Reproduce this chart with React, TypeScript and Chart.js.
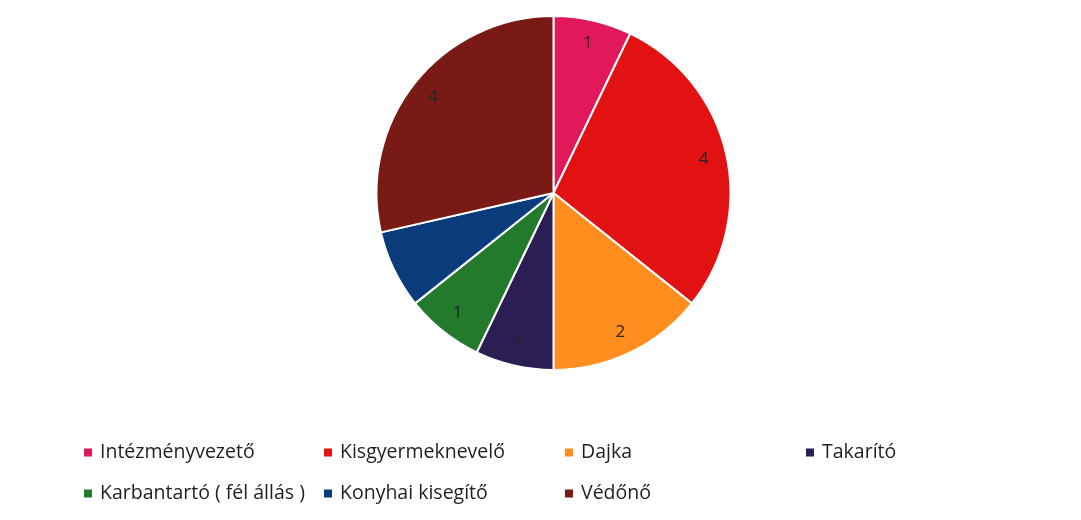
import React, { useEffect, useRef } from "react";
import { Chart, registerables } from "chart.js";

Chart.register(...registerables);

const categories = [
  "Intézményvezető",
  "Kisgyermeknevelő",
  "Dajka",
  "Takarító",
  "Karbantartó ( fél állás )",
  "Konyhai kisegítő",
  "Védőnő",
];
const values = [1, 4, 2, 1, 1, 1, 4];
const shownLabels = [true, true, true, true, true, false, true];
const colors = ["#E1185A", "#E21212", "#FF8E1E", "#2A1E52", "#237A2C", "#0A3B7B", "#7A1A14"];

const LEGEND_FONT = "'Open Sans', sans-serif";
const LABEL_FONT = "'Open Sans', sans-serif";

const labelPlugin = {
  id: "sliceLabels",
  afterDatasetsDraw(chart: any) {
    const ctx = chart.ctx;
    const meta = chart.getDatasetMeta(0);
    ctx.save();
    ctx.font = `17px ${LABEL_FONT}`;
    ctx.fillStyle = "#262626";
    ctx.textAlign = "center";
    ctx.textBaseline = "middle";
    meta.data.forEach((arc: any, i: number) => {
      if (!shownLabels[i]) return;
      const mid = (arc.startAngle + arc.endAngle) / 2;
      const r = arc.outerRadius * 0.87;
      ctx.fillText(String(values[i]), arc.x + Math.cos(mid) * r, arc.y + Math.sin(mid) * r);
    });
    ctx.restore();
  },
};

const legendPlugin = {
  id: "gridLegend",
  afterDraw(chart: any) {
    const ctx = chart.ctx;
    const colX = [84, 324, 565, 806];
    const rowY = [452, 493];
    ctx.save();
    ctx.font = `19.5px ${LEGEND_FONT}`;
    ctx.textBaseline = "middle";
    ctx.textAlign = "left";
    categories.forEach((label, i) => {
      const col = i < 4 ? i : i - 4;
      const row = i < 4 ? 0 : 1;
      const x = colX[col];
      const y = rowY[row];
      ctx.fillStyle = colors[i];
      ctx.fillRect(x, y - 3.5, 8, 8);
      ctx.fillStyle = "#1f1f1f";
      ctx.fillText(label, x + 16, y);
    });
    ctx.restore();
  },
};

export default function App() {
  const ref = useRef<HTMLCanvasElement>(null);
  useEffect(() => {
    if (!ref.current) return;
    const chart = new Chart(ref.current, {
      type: "pie",
      data: {
        labels: categories,
        datasets: [
          {
            data: values,
            backgroundColor: colors,
            borderColor: "#ffffff",
            borderWidth: 2,
          },
        ],
      },
      options: {
        responsive: false,
        animation: false,
        layout: { padding: { top: 15, bottom: 149, left: 375, right: 349 } },
        plugins: { legend: { display: false }, tooltip: { enabled: false } },
      },
      plugins: [labelPlugin, legendPlugin],
    });
    return () => chart.destroy();
  }, []);
  return (
    <div style={{ position: "absolute", left: 0, top: 0, width: 1081, height: 520, background: "#fff" }}>
      <canvas ref={ref} width={1081} height={520} style={{ width: 1081, height: 520 }} />
    </div>
  );
}
